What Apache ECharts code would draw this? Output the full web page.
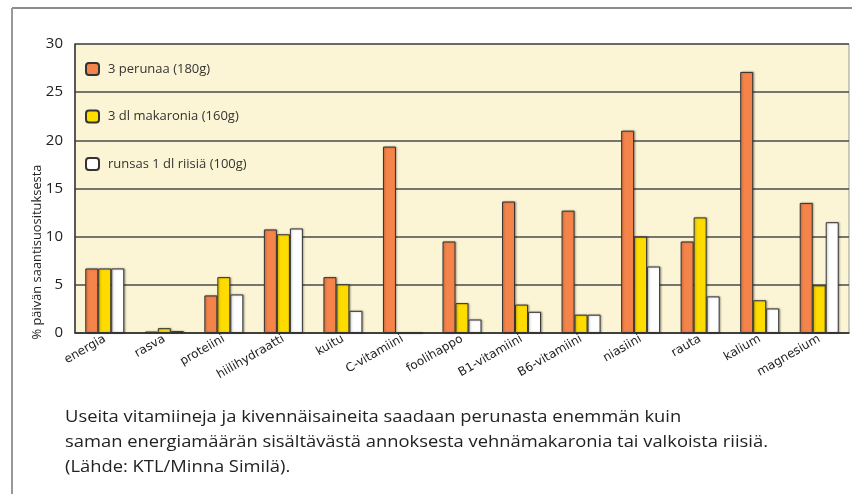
<!DOCTYPE html>
<html>
<head>
<meta charset="utf-8">
<script src="https://cdn.jsdelivr.net/npm/echarts@6/dist/echarts.min.js"></script>
<style>
html,body{margin:0;padding:0;background:#fff;}
#chart{width:852px;height:494px;}
</style>
</head>
<body>
<div id="chart"></div>
<script>
const categories = ['energia','rasva','proteiini','hiilihydraatti','kuitu','C-vitamiini','foolihappo','B1-vitamiini','B6-vitamiini','niasiini','rauta','kalium','magnesium'];
const seriesNames = ['3 perunaa (180g)','3 dl makaronia (160g)','runsas 1 dl riisiä (100g)'];
const peruna = [6.7, 0.15, 3.9, 10.75, 5.8, 19.35, 9.5, 13.65, 12.7, 21.0, 9.5, 27.1, 13.5];
const makaroni = [6.7, 0.5, 5.8, 10.25, 5.05, 0, 3.1, 2.95, 1.9, 10.0, 12.0, 3.4, 4.95];
const riisi = [6.7, 0.2, 4.0, 10.85, 2.3, 0, 1.4, 2.2, 1.9, 6.9, 3.8, 2.55, 11.5];
const yTicks = [0, 5, 10, 15, 20, 25, 30];
const yAxisName = '% päivän saantisuosituksesta';
const captionLines = [
  'Useita vitamiineja ja kivennäisaineita saadaan perunasta enemmän kuin',
  'saman energiamäärän sisältävästä annoksesta vehnämakaronia tai valkoista riisiä.',
  '(Lähde: KTL/Minna Similä).'
];

const colors = ['#F5844A', '#FFDC00', '#FFFFFF'];

function measure(text, font) {
  const c = document.createElement('canvas').getContext('2d');
  c.font = font;
  return c.measureText(text).width;
}
const capFont = '17px "Open Sans"';
const capScale = 703 / measure(captionLines[1], capFont);
const yNameFont = '12px "Open Sans"';
const yNameScale = 175 / measure(yAxisName, yNameFont);

const chart = echarts.init(document.getElementById('chart'));

const legendTops = [62, 109.5, 157];
const legends = seriesNames.map((n, i) => ({
  data: [n],
  left: 85,
  top: legendTops[i],
  orient: 'vertical',
  itemWidth: 13,
  itemHeight: 12,
  selectedMode: false,
  padding: 0,
  textStyle: {fontFamily: 'Open Sans', fontSize: 13, color: '#333', lineHeight: 12, padding: [0, 0, 0, 4]}
}));

const graphics = [
  {type: 'line', shape: {x1: 12, y1: 8, x2: 852, y2: 8}, style: {stroke: '#666', lineWidth: 1.5}, silent: true},
  {type: 'line', shape: {x1: 12, y1: 8, x2: 12, y2: 494}, style: {stroke: '#999', lineWidth: 2}, silent: true},
  {type: 'text', x: 38, y: 252, rotation: Math.PI / 2, scaleX: yNameScale,
   style: {text: yAxisName, font: yNameFont, fill: '#222', align: 'center', verticalAlign: 'middle'}, silent: true}
];
captionLines.forEach((t, i) => {
  graphics.push({type: 'text', x: 65, y: 417 + i * 25, scaleX: capScale,
    style: {text: t, font: capFont, fill: '#222', align: 'left', verticalAlign: 'middle'}, silent: true});
});

const mk = (name, data, i) => ({
  name: name,
  type: 'bar',
  data: data,
  barWidth: 13,
  barGap: '0%',
  itemStyle: {color: colors[i], borderColor: '#333', borderWidth: 1,
    shadowColor: 'rgba(0,0,0,0.3)', shadowBlur: 2, shadowOffsetX: 1},
  emphasis: {disabled: true},
  animation: false
});

chart.setOption({
  animation: false,
  legend: legends,
  grid: {left: 75, right: 3, top: 44, bottom: 161, show: true, backgroundColor: '#FCF5D5', borderColor: '#999', borderWidth: 1},
  xAxis: {
    type: 'category',
    data: categories,
    axisTick: {show: false},
    axisLine: {lineStyle: {color: '#333', width: 1.5}},
    axisLabel: {rotate: 30, interval: 0, margin: 5, fontSize: 12, fontFamily: 'DejaVu Sans', color: '#222',
      padding: [0, 0, 0, 0]}
  },
  yAxis: {
    type: 'value',
    min: yTicks[0],
    max: yTicks[yTicks.length - 1],
    interval: yTicks[1] - yTicks[0],
    axisLine: {show: true, lineStyle: {color: '#333', width: 1.5}},
    axisTick: {show: false},
    axisLabel: {fontSize: 15, fontFamily: 'Open Sans', color: '#222', margin: 12},
    splitLine: {lineStyle: {color: '#4a4a4a', width: 1.5}}
  },
  graphic: graphics,
  series: [mk(seriesNames[0], peruna, 0), mk(seriesNames[1], makaroni, 1), mk(seriesNames[2], riisi, 2)]
});
</script>
</body>
</html>
